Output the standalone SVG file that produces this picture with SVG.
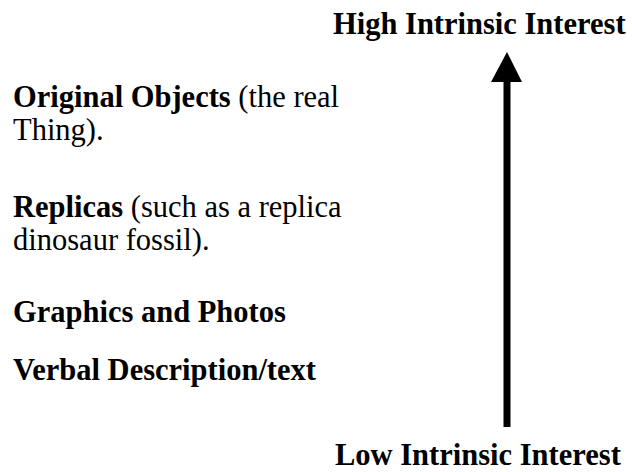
<svg xmlns="http://www.w3.org/2000/svg" width="632" height="472" viewBox="0 0 632 472">
<style>
text{font-family:"Liberation Serif","Times New Roman",serif;font-size:30.5px;fill:#000}
.b{font-weight:bold}
</style>
<rect width="632" height="472" fill="#fff"/>
<g id="high"><text class="b" x="333" y="34">High Intrinsic Interest</text></g>
<g id="low"><text class="b" x="335" y="465">Low Intrinsic Interest</text></g>
<g id="original"><text x="13" y="107"><tspan class="b">Original Objects </tspan>(the real</text><text x="13" y="140">Thing).</text></g>
<g id="replicas"><text x="13" y="217"><tspan class="b">Replicas</tspan> (such as a replica</text><text x="13" y="250">dinosaur fossil).</text></g>
<g id="graphics"><text class="b" x="13" y="322">Graphics and Photos</text></g>
<g id="verbal"><text class="b" x="13" y="380">Verbal Description/text</text></g>
<g id="connectors">
<rect x="503.5" y="80" width="7" height="347" fill="#000"/>
<polygon points="507,52 491,82 522,82" fill="#000"/>
</g>
</svg>
